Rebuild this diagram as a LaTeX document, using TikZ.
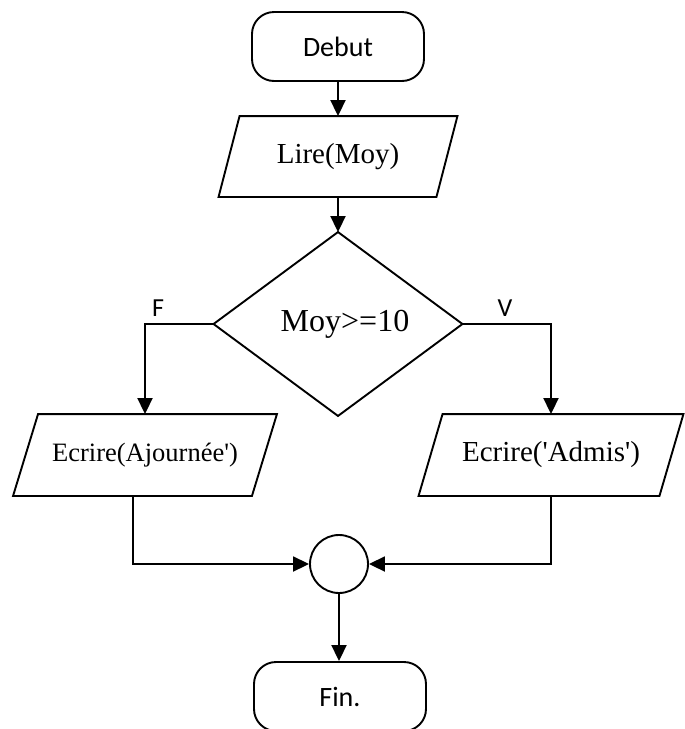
\documentclass[tikz,border=0pt]{standalone}
\usepackage{fontspec}
\newfontfamily\tnrfont{Liberation Serif}
\newfontfamily\calfont{Carlito}
\usetikzlibrary{arrows.meta,shapes.geometric}
\begin{document}
\begin{tikzpicture}[x=1pt,y=1pt,
  line width=1.9pt,
  arr/.style={-{Triangle[length=16pt,width=15pt]}},
  term/.style={draw,rounded corners=22pt,minimum width=172pt,minimum height=69pt,inner sep=0pt,font=\calfont\fontsize{28}{32}\selectfont},
  box/.style={draw=none,inner sep=0pt,minimum height=79pt},
  lbl/.style={inner sep=0pt,font=\calfont\fontsize{26}{30}\selectfont}]
\useasboundingbox (0,0) rectangle (685,-729);
% start
\node[term] (debut) at (338,-46.5) {Debut};
% read
\node[box,minimum width=216pt,font=\tnrfont\fontsize{29}{34}\selectfont] (lire) at (338,-156.5) {Lire(Moy)};
\draw ([xshift=10.5pt]lire.north west) -- ([xshift=10.5pt]lire.north east) -- ([xshift=-10.5pt]lire.south east) -- ([xshift=-10.5pt]lire.south west) -- cycle;
% decision
\node[draw=none,inner sep=0pt,minimum width=247pt,minimum height=182pt] (dec) at (338,-324) {};
\draw (dec.north) -- (dec.east) -- (dec.south) -- (dec.west) -- cycle;
\node[inner sep=0pt,font=\tnrfont\fontsize{32}{36}\selectfont] (dect) at (345,-324) {Moy>=10};
% branches
\node[box,minimum height=80pt,minimum width=237pt,font=\tnrfont\fontsize{26.5}{31}\selectfont] (ajo) at (145,-455) {Ecrire(Ajournée\textquotesingle)};
\draw ([xshift=12.5pt]ajo.north west) -- ([xshift=12.5pt]ajo.north east) -- ([xshift=-12.5pt]ajo.south east) -- ([xshift=-12.5pt]ajo.south west) -- cycle;
\node[box,minimum height=80pt,minimum width=239pt,font=\tnrfont\fontsize{29}{34}\selectfont] (adm) at (551,-455) {Ecrire(\textquotesingle Admis\textquotesingle)};
\draw ([xshift=12pt]adm.north west) -- ([xshift=12pt]adm.north east) -- ([xshift=-12pt]adm.south east) -- ([xshift=-12pt]adm.south west) -- cycle;
% join
\node[draw,circle,minimum size=58pt,inner sep=0pt] (join) at (339,-564) {};
% end
\node[term] (fin) at (340,-696.5) {Fin.};
% labels
\node[lbl] (lf) at (158,-308) {F};
\node[lbl] (lv) at (505,-308) {V};
% connectors
\draw[arr] (debut.south) -- (lire.north);
\draw[arr] (lire.south) -- (dec.north);
\draw[arr] (dec.west) -| (ajo.north);
\draw[arr] (dec.east) -| (adm.north);
\coordinate (ajob) at ([xshift=-12pt]ajo.south);
\draw[arr] (ajob) |- (join.west);
\draw[arr] (adm.south) |- (join.east);
\draw[arr] (join.south) -- (join.south |- fin.north);
\end{tikzpicture}
\end{document}
